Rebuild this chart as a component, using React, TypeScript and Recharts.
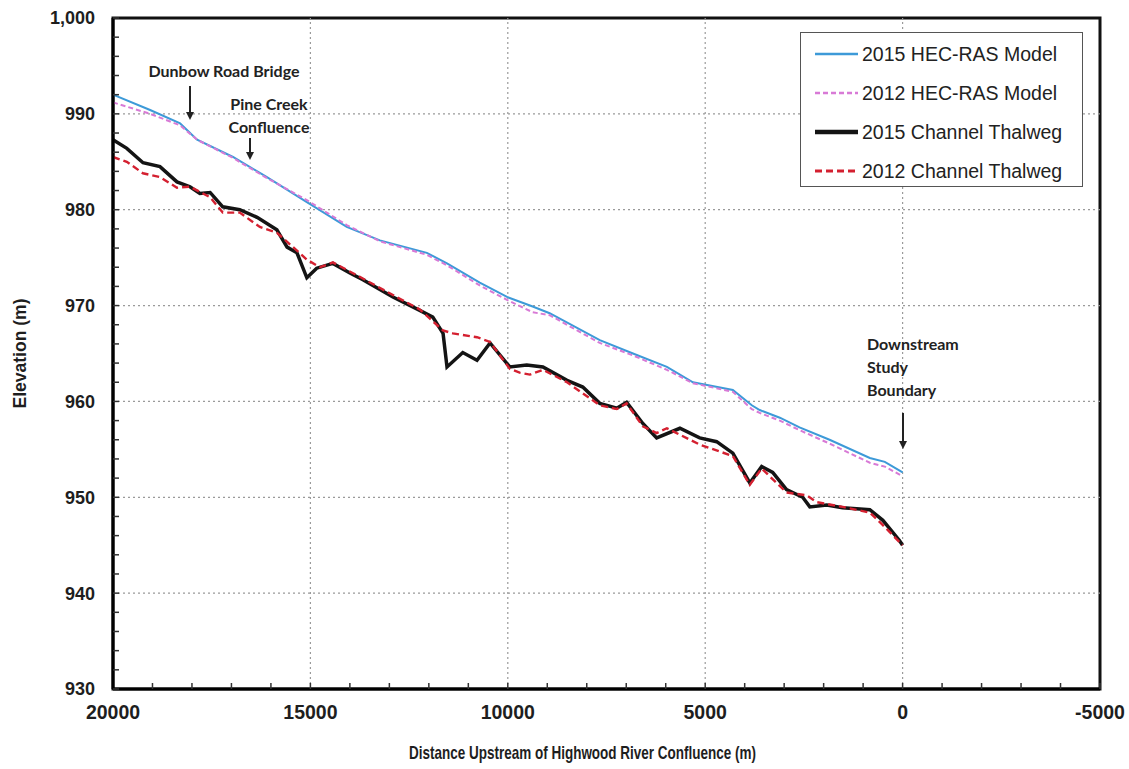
import { LineChart, Line, XAxis, YAxis, ReferenceLine, ReferenceArea, Label } from "recharts"

// 2015 HEC-RAS model water surface
const model2015Dist = [20000, 19060, 18300, 17870, 16960, 16100, 15090, 14080, 13240, 12050, 11540, 10710, 10020, 9370, 8940, 7670, 6830, 5970, 5310, 4300, 3820, 3620, 3110, 2610, 1850, 830, 450, 0]
const model2015Elev = [992.0, 990.4, 989.0, 987.3, 985.5, 983.4, 980.8, 978.2, 976.8, 975.5, 974.4, 972.4, 970.9, 969.9, 969.2, 966.4, 965.0, 963.6, 962.0, 961.2, 959.6, 959.1, 958.3, 957.3, 956.0, 954.1, 953.7, 952.6]

// 2012 HEC-RAS model water surface
const model2012Dist = [20000, 19060, 18300, 17870, 16960, 16100, 15090, 14080, 13240, 12050, 11540, 10710, 10020, 9370, 8940, 7670, 6830, 5970, 5310, 4300, 3820, 3620, 3110, 2610, 1850, 830, 450, 0]
const model2012Elev = [991.2, 990.0, 988.8, 987.3, 985.4, 983.3, 981.0, 978.4, 976.7, 975.3, 974.2, 972.1, 970.6, 969.3, 969.0, 966.1, 964.8, 963.3, 961.9, 961.0, 959.2, 958.8, 958.0, 957.0, 955.6, 953.6, 953.2, 952.2]

// 2015 channel thalweg
const thalweg2015Dist = [20000, 19650, 19240, 18810, 18380, 18050, 17800, 17540, 17220, 16790, 16350, 15850, 15590, 15340, 15090, 14840, 14430, 14000, 13670, 12910, 12230, 11900, 11640, 11540, 11140, 10780, 10450, 9950, 9520, 9110, 8500, 8100, 7670, 7240, 6990, 6580, 6230, 5640, 5140, 4710, 4300, 3870, 3570, 3290, 2940, 2530, 2350, 1920, 1520, 830, 500, 80, 0]
const thalweg2015Elev = [987.3, 986.4, 984.9, 984.5, 982.9, 982.4, 981.7, 981.8, 980.3, 980.0, 979.2, 977.9, 976.1, 975.5, 972.9, 973.9, 974.4, 973.4, 972.7, 970.9, 969.5, 968.8, 967.1, 963.6, 965.1, 964.3, 966.1, 963.6, 963.8, 963.6, 962.2, 961.5, 959.8, 959.3, 959.9, 957.7, 956.2, 957.2, 956.2, 955.8, 954.6, 951.5, 953.2, 952.6, 950.8, 950.0, 949.0, 949.2, 948.9, 948.7, 947.6, 945.5, 945.0]

// 2012 channel thalweg
const thalweg2012Dist = [20000, 19650, 19240, 18810, 18380, 18050, 17540, 17220, 16790, 16280, 15850, 15440, 15090, 14760, 14430, 13750, 12910, 12230, 11640, 11390, 10780, 10450, 9950, 9700, 9440, 9110, 8500, 7670, 7240, 6990, 6580, 6230, 5970, 5140, 4300, 3870, 3570, 2940, 2430, 2180, 1520, 830, 500, 0]
const thalweg2012Elev = [985.5, 985.0, 983.8, 983.4, 982.3, 982.4, 981.3, 979.7, 979.7, 978.2, 977.6, 976.1, 974.8, 974.0, 974.5, 973.0, 971.1, 969.6, 967.4, 967.1, 966.7, 966.2, 963.4, 963.0, 962.8, 963.3, 962.0, 959.6, 959.2, 959.8, 957.4, 956.7, 957.2, 955.5, 954.3, 951.3, 953.0, 950.5, 950.2, 949.5, 949.0, 948.4, 947.1, 945.0]

const xTicks = [20000, 15000, 10000, 5000, 0, -5000]
const xMinorTicks = [20000, 19000, 18000, 17000, 16000, 15000, 14000, 13000, 12000, 11000, 10000, 9000, 8000, 7000, 6000, 5000, 4000, 3000, 2000, 1000, 0, -1000, -2000, -3000, -4000, -5000]
const yTicks = [930, 940, 950, 960, 970, 980, 990, 1000]
const yMinorTicks = [930, 932, 934, 936, 938, 940, 942, 944, 946, 948, 950, 952, 954, 956, 958, 960, 962, 964, 966, 968, 970, 972, 974, 976, 978, 980, 982, 984, 986, 988, 990, 992, 994, 996, 998, 1000]

const toRows = (dist: number[], elev: number[]) => dist.map((d, i) => ({ dist: d, elev: elev[i] }))

const series = [
  { name: "2015 HEC-RAS Model", data: toRows(model2015Dist, model2015Elev), color: "#3d9ad8", width: 2, dash: undefined },
  { name: "2012 HEC-RAS Model", data: toRows(model2012Dist, model2012Elev), color: "#d87ad6", width: 2, dash: "5 3" },
  { name: "2015 Channel Thalweg", data: toRows(thalweg2015Dist, thalweg2015Elev), color: "#141414", width: 3.5, dash: undefined },
  { name: "2012 Channel Thalweg", data: toRows(thalweg2012Dist, thalweg2012Elev), color: "#d42030", width: 2.4, dash: "7 4" },
]

const tickFont = { fontFamily: "'Liberation Sans', Arial, sans-serif", fontWeight: 700, fill: "#1e1e1e" }
const noteFont = { fontFamily: "Lato, 'Liberation Sans', sans-serif", fontWeight: 700, fontSize: 16, fill: "#222" }
const gridStyle = { stroke: "#9a9a9a", strokeDasharray: "2 3", strokeWidth: 1.2 }

const Arrow = ({ x, y1, y2 }: { x: number; y1: number; y2: number }) => (
  <g>
    <line x1={x} y1={y1} x2={x} y2={y2 - 6} stroke="#222" strokeWidth={2} />
    <path d={`M${x - 4},${y2 - 8} L${x + 4},${y2 - 8} L${x},${y2} Z`} fill="#222" />
  </g>
)

export default function App() {
  return (
    <div style={{ position: "absolute", left: 0, top: 0, width: 1129, height: 769, background: "#fff" }}>
      <LineChart width={1129} height={769} margin={{ top: 18, right: 29, bottom: 0, left: 0 }}>
        <XAxis
          dataKey="dist"
          type="number"
          domain={[-5000, 20000]}
          reversed
          ticks={xMinorTicks}
          interval={0}
          tickFormatter={(v: number) => (xTicks.includes(v) ? String(v) : "")}
          tickSize={-6}
          tickMargin={22}
          axisLine={{ stroke: "#000", strokeWidth: 3 }}
          tickLine={{ stroke: "#333", strokeWidth: 1.5 }}
          tick={{ ...tickFont, fontSize: 19.5 }}
          height={80}
        >
          <Label
            content={({ viewBox }: any) => (
              <text
                x={viewBox.x + viewBox.width / 2 - 24}
                y={viewBox.y + 70}
                textAnchor="middle"
                textLength={347}
                lengthAdjust="spacingAndGlyphs"
                style={{ ...tickFont, fontSize: 19 }}
              >
                Distance Upstream of Highwood River Confluence (m)
              </text>
            )}
          />
        </XAxis>
        <YAxis
          type="number"
          domain={[930, 1000]}
          ticks={yMinorTicks}
          interval={0}
          tickFormatter={(v: number) => (yTicks.includes(v) ? (v === 1000 ? "1,000" : String(v)) : "")}
          tickSize={-6}
          tickMargin={24}
          axisLine={{ stroke: "#000", strokeWidth: 3 }}
          tickLine={{ stroke: "#333", strokeWidth: 1.5 }}
          tick={{ ...tickFont, fontSize: 18 }}
          width={113}
        >
          <Label
            content={({ viewBox }: any) => (
              <text
                transform={`translate(${26}, ${viewBox.y + viewBox.height / 2}) rotate(-90)`}
                textAnchor="middle"
                textLength={110}
                lengthAdjust="spacingAndGlyphs"
                style={{ ...tickFont, fontSize: 19 }}
              >
                Elevation (m)
              </text>
            )}
          />
        </YAxis>
        {xTicks.slice(1, -1).map((t) => (
          <ReferenceLine key={`gx${t}`} x={t} {...gridStyle} />
        ))}
        {yTicks.slice(1, -1).map((t) => (
          <ReferenceLine key={`gy${t}`} y={t} {...gridStyle} />
        ))}
        <ReferenceArea x1={20000} x2={-5000} y1={930} y2={1000} fill="none" stroke="#111" strokeWidth={3} />
        {series.map((s) => (
          <Line
            key={s.name}
            data={s.data}
            dataKey="elev"
            name={s.name}
            type="linear"
            stroke={s.color}
            strokeWidth={s.width}
            strokeDasharray={s.dash}
            dot={false}
            isAnimationActive={false}
          />
        ))}
      </LineChart>

      {/* legend box */}
      <div
        style={{
          position: "absolute",
          left: 800,
          top: 32,
          width: 283,
          height: 155,
          border: "1.5px solid #555",
          background: "#fff",
          boxSizing: "border-box",
        }}
      >
        <svg width={283} height={155}>
          {series.map((s, i) => {
            const y = 21 + i * 39
            return (
              <g key={s.name}>
                <line x1={14} x2={57} y1={y} y2={y} stroke={s.color} strokeWidth={s.width === 3.5 ? 4.5 : s.width + 0.5} strokeDasharray={s.dash} />
                <text x={61} y={y + 7} style={{ fontFamily: "'Liberation Sans', Arial, sans-serif", fontSize: 19.5, fill: "#222" }}>
                  {s.name}
                </text>
              </g>
            )
          })}
        </svg>
      </div>

      {/* annotations */}
      <svg width={1129} height={769} style={{ position: "absolute", left: 0, top: 0, pointerEvents: "none" }}>
        <text x={224} y={77} textAnchor="middle" style={noteFont}>Dunbow Road Bridge</text>
        <Arrow x={190} y1={86} y2={120} />
        <text x={269} y={110} textAnchor="middle" style={noteFont}>Pine Creek</text>
        <text x={269} y={133} textAnchor="middle" style={noteFont}>Confluence</text>
        <Arrow x={250} y1={138} y2={160} />
        <text x={867} y={350} style={noteFont}>Downstream</text>
        <text x={867} y={373} style={noteFont}>Study</text>
        <text x={867} y={396} style={noteFont}>Boundary</text>
        <Arrow x={903} y1={413} y2={449} />
      </svg>
    </div>
  )
}
